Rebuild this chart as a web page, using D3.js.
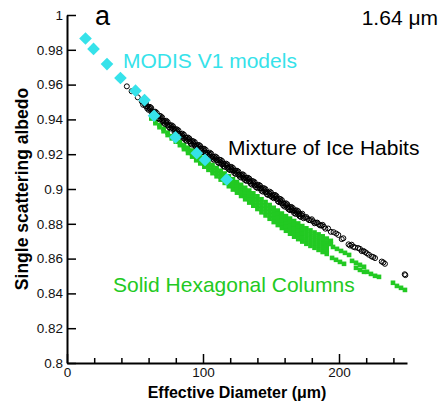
<!DOCTYPE html>
<html>
<head>
<meta charset="utf-8">
<script src="https://cdn.jsdelivr.net/npm/d3@7"></script>
<style>
  body { margin: 0; background: #fff; }
  svg text { font-family: "Liberation Sans", Arial, Helvetica, sans-serif; }
</style>
</head>
<body>
<svg id="chart" width="444" height="408"></svg>
<script>
// axis ticks
var xMajor = [0, 100, 200];
var xMinor = [20, 40, 60, 80, 120, 140, 160, 180, 220, 240];
var yTicks = [0.8, 0.82, 0.84, 0.86, 0.88, 0.9, 0.92, 0.94, 0.96, 0.98, 1];
var yTickLabels = ["0.8", "0.82", "0.84", "0.86", "0.88", "0.9", "0.92", "0.94", "0.96", "0.98", "1"];

// MODIS V1 models (cyan diamonds): [Deff, albedo]
var modis = [
  [13.6, 0.9865], [19.5, 0.9805], [29.4, 0.9718], [39.3, 0.9638], [50.4, 0.9565],
  [57.0, 0.9511], [64.0, 0.9421], [79.8, 0.9297], [95.4, 0.9206], [101.5, 0.9167],
  [117.4, 0.9055]
];

// Mixture of ice habits (open black circles)
var mixture = [
  [44, 0.9590], [47.5, 0.9562], [52, 0.9527], [55, 0.9503],
  [56, 0.9504], [58, 0.9476], [60, 0.9469], [62, 0.9444], [64, 0.9444], [66, 0.9422],
  [68, 0.9421], [70, 0.9392], [72, 0.9390], [74, 0.9365], [76, 0.9366], [78, 0.9346],
  [80, 0.9344], [82, 0.9318], [84, 0.9315], [86, 0.9291], [88, 0.9295], [90, 0.9274],
  [92, 0.9276], [94, 0.9250], [96, 0.9251], [98, 0.9232], [100, 0.9232], [102, 0.9207],
  [104, 0.9204], [106, 0.9182], [108, 0.9185], [110, 0.9167], [112, 0.9169], [114, 0.9142],
  [116, 0.9143], [118, 0.9121], [120, 0.9126], [122, 0.9107], [124, 0.9106], [126, 0.9082],
  [128, 0.9081], [130, 0.9059], [132, 0.9064], [134, 0.9044], [136, 0.9046], [138, 0.9020],
  [140, 0.9022], [142, 0.9004], [144, 0.9005], [146, 0.8981], [148, 0.8979], [150, 0.8959],
  [152, 0.8964], [154, 0.8945], [156, 0.8945], [158, 0.8917], [160, 0.8915], [162, 0.8892],
  [164, 0.8896], [166, 0.8877], [168, 0.8877], [170, 0.8854], [172, 0.8854], [174, 0.8832],
  [176, 0.8839], [178, 0.8821], [180, 0.8826], [182, 0.8803], [184, 0.8807], [186, 0.8791],
  [188, 0.8794], [190, 0.8772], [192, 0.8773], [194, 0.8754],
  [57, 0.9501], [59, 0.9463], [61, 0.9472], [63, 0.9434], [65, 0.9444], [67, 0.9407],
  [69, 0.9418], [71, 0.9381], [73, 0.9392], [75, 0.9355], [77, 0.9366], [79, 0.9330],
  [81, 0.9342], [83, 0.9306], [85, 0.9318], [87, 0.9283], [89, 0.9296], [91, 0.9261],
  [93, 0.9274], [95, 0.9240], [97, 0.9253], [99, 0.9218], [101, 0.9231], [103, 0.9196],
  [105, 0.9209], [107, 0.9174], [109, 0.9187], [111, 0.9153], [113, 0.9167], [115, 0.9132],
  [117, 0.9146], [119, 0.9113], [121, 0.9127], [123, 0.9092], [125, 0.9105], [127, 0.9071],
  [129, 0.9085], [131, 0.9051], [133, 0.9065], [135, 0.9031], [137, 0.9044], [139, 0.9010],
  [141, 0.9024], [143, 0.8990], [145, 0.9004], [147, 0.8970], [149, 0.8985], [151, 0.8952],
  [153, 0.8966], [155, 0.8930], [157, 0.8942], [159, 0.8906], [161, 0.8918], [163, 0.8883],
  [165, 0.8897], [167, 0.8862], [169, 0.8877], [171, 0.8844], [173, 0.8858],
  [57, 0.9489], [59, 0.9475], [61, 0.9460], [63, 0.9446], [65, 0.9432], [67, 0.9419],
  [69, 0.9406], [71, 0.9393], [73, 0.9380], [75, 0.9367], [77, 0.9354], [79, 0.9342],
  [81, 0.9330], [83, 0.9318], [85, 0.9306], [87, 0.9295], [89, 0.9284], [91, 0.9273],
  [93, 0.9262], [95, 0.9252], [97, 0.9241], [99, 0.9230], [101, 0.9219], [103, 0.9208],
  [105, 0.9197], [107, 0.9186], [109, 0.9175], [111, 0.9165], [113, 0.9155], [115, 0.9144],
  [117, 0.9134], [119, 0.9125], [121, 0.9115], [123, 0.9104], [125, 0.9093], [127, 0.9083],
  [129, 0.9073], [131, 0.9063], [133, 0.9053], [135, 0.9043], [137, 0.9032], [139, 0.9022],
  [141, 0.9012], [143, 0.9002], [145, 0.8992], [147, 0.8982], [149, 0.8973], [151, 0.8964],
  [153, 0.8954], [155, 0.8942], [157, 0.8930], [159, 0.8918], [161, 0.8906], [163, 0.8895],
  [165, 0.8885], [167, 0.8874], [169, 0.8865], [171, 0.8856], [173, 0.8846], [175, 0.8837],
  [177, 0.8829], [179, 0.8821], [181, 0.8814], [183, 0.8806], [185, 0.8798], [187, 0.8790],
  [189, 0.8782],
  [56, 0.9484], [58, 0.9494], [60, 0.9455], [62, 0.9465], [64, 0.9427], [66, 0.9437],
  [68, 0.9400], [70, 0.9411], [72, 0.9374], [74, 0.9385], [76, 0.9348], [78, 0.9360],
  [80, 0.9324], [82, 0.9336], [84, 0.9300], [86, 0.9312], [88, 0.9277], [90, 0.9290],
  [92, 0.9255], [94, 0.9269], [96, 0.9234], [98, 0.9247], [100, 0.9212], [102, 0.9225],
  [104, 0.9190], [106, 0.9203], [108, 0.9168], [110, 0.9182], [112, 0.9148], [114, 0.9161],
  [116, 0.9127], [118, 0.9141], [120, 0.9108], [122, 0.9121], [124, 0.9086], [126, 0.9100],
  [128, 0.9066], [130, 0.9080], [132, 0.9046], [134, 0.9060], [136, 0.9025], [138, 0.9039],
  [140, 0.9005], [142, 0.9019], [144, 0.8985], [146, 0.8999], [148, 0.8965], [150, 0.8980],
  [152, 0.8947], [154, 0.8960], [156, 0.8924], [158, 0.8936], [160, 0.8899], [162, 0.8912],
  [164, 0.8878], [166, 0.8891], [168, 0.8857], [170, 0.8872], [172, 0.8839],
  [196, 0.8752], [198, 0.8744], [199.5, 0.8736], [202, 0.8712], [203.2, 0.8717],
  [207, 0.8682], [208.1, 0.8675], [209.3, 0.8680], [210.5, 0.8668], [211.8, 0.8664],
  [214, 0.8661], [215.4, 0.8656], [216.7, 0.8643], [218, 0.8644], [219.1, 0.8638],
  [220.4, 0.8631], [222, 0.8622], [224, 0.8612], [225.2, 0.8609], [226.5, 0.8603],
  [231.4, 0.8583], [232.6, 0.8578], [233.8, 0.8570], [248.3, 0.8510], [248.8, 0.8505]
];

// Solid hexagonal columns (green squares): Deff columns and the albedos read at each
var hexX = [62, 65, 68, 71, 74, 77, 80, 83, 86, 89, 92, 95, 98, 101, 104, 107, 110, 113, 116,
  119, 122, 125, 128, 131, 134, 137, 140, 143, 146, 149, 152, 155, 158, 161, 164, 167, 170,
  173, 176, 179, 182, 185, 188, 191, 194];
var hexY = [
  [0.9405], [0.9389, 0.9378], [0.9367, 0.9355], [0.9346, 0.9332], [0.9324, 0.9310],
  [0.9304, 0.9291], [0.9286, 0.9272], [0.9270, 0.9252], [0.9253, 0.9241, 0.9229],
  [0.9237, 0.9222, 0.9207], [0.9221, 0.9203, 0.9186], [0.9204, 0.9185, 0.9165],
  [0.9188, 0.9168, 0.9147], [0.9172, 0.9157, 0.9142, 0.9128], [0.9155, 0.9140, 0.9125, 0.9110],
  [0.9138, 0.9123, 0.9107, 0.9091], [0.9121, 0.9105, 0.9089, 0.9073],
  [0.9105, 0.9088, 0.9071, 0.9054], [0.9089, 0.9071, 0.9053, 0.9035],
  [0.9073, 0.9055, 0.9036, 0.9016], [0.9056, 0.9037, 0.9017, 0.8997],
  [0.9040, 0.9025, 0.9010, 0.8994, 0.8979], [0.9024, 0.9008, 0.8992, 0.8976, 0.8960],
  [0.9007, 0.8991, 0.8974, 0.8957, 0.8941], [0.8991, 0.8974, 0.8956, 0.8939, 0.8922],
  [0.8975, 0.8957, 0.8939, 0.8921, 0.8904], [0.8958, 0.8940, 0.8921, 0.8903, 0.8885],
  [0.8941, 0.8922, 0.8903, 0.8885, 0.8866], [0.8925, 0.8906, 0.8886, 0.8867, 0.8848],
  [0.8908, 0.8888, 0.8868, 0.8849, 0.8829], [0.8892, 0.8872, 0.8851, 0.8831, 0.8810],
  [0.8876, 0.8855, 0.8834, 0.8814, 0.8793], [0.8859, 0.8838, 0.8817, 0.8797, 0.8776],
  [0.8844, 0.8823, 0.8802, 0.8781, 0.8760], [0.8830, 0.8809, 0.8787, 0.8765, 0.8743],
  [0.8816, 0.8794, 0.8771, 0.8749, 0.8726], [0.8802, 0.8780, 0.8757, 0.8735, 0.8712],
  [0.8787, 0.8765, 0.8743, 0.8720, 0.8698], [0.8774, 0.8752, 0.8730, 0.8707, 0.8685],
  [0.8762, 0.8740, 0.8718, 0.8695, 0.8673], [0.8750, 0.8728, 0.8706, 0.8684, 0.8662],
  [0.8739, 0.8717, 0.8695, 0.8673, 0.8650], [0.8728, 0.8706, 0.8684, 0.8661, 0.8638],
  [0.8715, 0.8693, 0.8671, 0.8649, 0.8627], [0.8702, 0.8684]
];
// broken dashes at the large-size end
var hexTail = [
  [195.6, 0.8667], [198.5, 0.8656], [201.5, 0.8644], [204.4, 0.8633], [207.4, 0.8621],
  [194.9, 0.8604], [197.8, 0.8593], [200.7, 0.8581], [203.7, 0.8570],
  [209.6, 0.8587], [212.5, 0.8576], [215.4, 0.8564], [218.4, 0.8553],
  [212.5, 0.8547], [215.4, 0.8535], [218.4, 0.8524],
  [220.6, 0.8524], [223.5, 0.8512], [226.5, 0.8501], [229.4, 0.8495],
  [239.7, 0.8461], [242.6, 0.8443], [245.6, 0.8432], [248.5, 0.8420]
];

var cyan = "#36e2ea";
var green = "#22c922";

var svg = d3.select("#chart");
svg.append("rect").attr("width", 444).attr("height", 408).attr("fill", "#fff");

var x = d3.scaleLinear().domain([0, 250]).range([67, 407]);
var y = d3.scaleLinear().domain([0.8, 1]).range([363, 15]);

// green band
var hexPoints = [];
hexX.forEach(function (xv, i) {
  hexY[i].forEach(function (yv) { hexPoints.push([xv, yv]); });
});
hexPoints = hexPoints.concat(hexTail);

var sq = 4.6;
svg.append("g").selectAll("rect")
  .data(hexPoints)
  .enter().append("rect")
  .attr("x", function (d) { return x(d[0]) - sq / 2; })
  .attr("y", function (d) { return y(d[1]) - sq / 2; })
  .attr("width", sq)
  .attr("height", sq)
  .attr("fill", green);

// black circles
svg.append("g").selectAll("circle")
  .data(mixture)
  .enter().append("circle")
  .attr("cx", function (d) { return x(d[0]); })
  .attr("cy", function (d) { return y(d[1]); })
  .attr("r", 2.5)
  .attr("fill", "none")
  .attr("stroke", "#000")
  .attr("stroke-width", 1);

// cyan diamonds
svg.append("g").selectAll("path")
  .data(modis)
  .enter().append("path")
  .attr("d", d3.symbol().type(d3.symbolSquare).size(80))
  .attr("transform", function (d) { return "translate(" + x(d[0]) + "," + y(d[1]) + ") rotate(45)"; })
  .attr("fill", cyan);

// axes
svg.append("g")
  .attr("transform", "translate(" + x(0) + ",0)")
  .call(d3.axisLeft(y).tickValues(yTicks)
    .tickFormat(function (d, i) { return yTickLabels[i]; })
    .tickSizeInner(-9).tickSizeOuter(0).tickPadding(4));

svg.append("g")
  .attr("transform", "translate(0," + y(0.8) + ")")
  .call(d3.axisBottom(x).tickValues(xMajor)
    .tickSizeInner(-9).tickSizeOuter(0).tickPadding(4));

svg.append("g")
  .attr("transform", "translate(0," + y(0.8) + ")")
  .call(d3.axisBottom(x).tickValues(xMinor).tickFormat("")
    .tickSizeInner(-5).tickSizeOuter(0))
  .select(".domain").remove();

svg.selectAll(".domain").attr("stroke", "#000").attr("stroke-width", 2);
svg.selectAll(".tick line").attr("stroke", "#000").attr("stroke-width", 1.5);
svg.selectAll(".tick text")
  .attr("fill", "#111")
  .style("font-family", "'Liberation Sans', Arial, sans-serif")
  .style("font-size", "13.5px");

// axis titles
svg.append("text")
  .attr("x", 237).attr("y", 398)
  .attr("text-anchor", "middle")
  .style("font-size", "16px").style("font-weight", "bold")
  .text("Effective Diameter (\u03bcm)");

svg.append("text")
  .attr("transform", "translate(28,189) rotate(-90)")
  .attr("text-anchor", "middle")
  .style("font-size", "17.5px").style("font-weight", "bold")
  .text("Single scattering albedo");

// annotations
svg.append("text").attr("x", 95).attr("y", 25)
  .style("font-size", "27px").text("a");
svg.append("text").attr("x", 438).attr("y", 25).attr("text-anchor", "end")
  .style("font-size", "21px").text("1.64 \u03bcm");
svg.append("text").attr("x", 123).attr("y", 68)
  .style("font-size", "21px").attr("fill", cyan).text("MODIS V1 models");
svg.append("text").attr("x", 228).attr("y", 155)
  .style("font-size", "21px").attr("fill", "#000").text("Mixture of Ice Habits");
svg.append("text").attr("x", 113).attr("y", 292)
  .style("font-size", "21px").attr("fill", green).text("Solid Hexagonal Columns");
</script>
</body>
</html>
